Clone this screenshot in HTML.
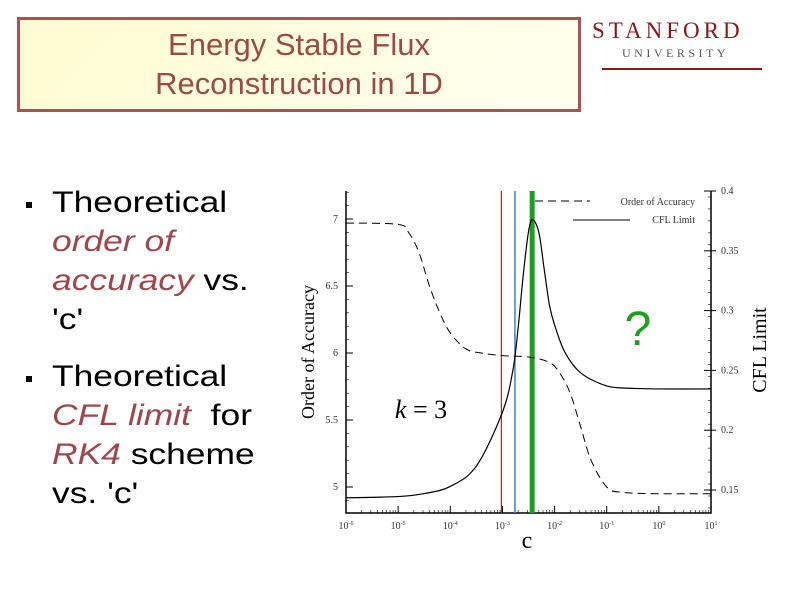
<!DOCTYPE html>
<html><head><meta charset="utf-8"><style>
body{margin:0;width:794px;height:595px;background:#fff;position:relative;overflow:hidden;font-family:"Liberation Sans",sans-serif}
#title{position:absolute;left:17px;top:17px;width:558px;height:84px;border:3px solid #b05050;background:linear-gradient(135deg,#fffbd0,#fffff0);color:#9b4a45;font-size:31px;text-align:center;line-height:39px;padding-top:5px;box-sizing:content-box}
.logo{position:absolute;left:592px;top:18px;color:#8c1515;font-family:"Liberation Serif",serif}
.bul{position:absolute;left:0;font-size:30px;line-height:39px;color:#000}
.bul .sq{position:absolute;left:26px;top:19px;width:6px;height:6px;background:#000}
.bul .t{position:absolute;left:52px;width:182px;transform:scaleX(1.18);transform-origin:0 0}
.o{color:#a0454a;font-style:italic}
</style></head><body>
<div id="title">Energy Stable Flux<br>Reconstruction in 1D</div>
<div class="logo">
<div style="font-size:23px;letter-spacing:4px">STANFORD</div>
<div style="font-size:12px;letter-spacing:3.5px;margin-left:30px;color:#555;margin-top:2px">UNIVERSITY</div>
<div style="width:160px;height:2px;background:#8c1515;margin:7px 0 0 10px"></div>
</div>
<div class="bul" style="top:183px"><div class="sq"></div><div class="t">Theoretical <span class="o">order of accuracy</span> vs. 'c'</div></div>
<div class="bul" style="top:357px"><div class="sq"></div><div class="t">Theoretical <span class="o">CFL limit</span>&nbsp; for <span class="o">RK4</span> scheme vs. 'c'</div></div>
<svg id="chart" width="794" height="595" style="position:absolute;left:0;top:0"></svg>
<script>
const orderLogC=[-6,-5,-4.8,-4.6,-4.4,-4.2,-4,-3.7,-3.4,-3,-2.5,-2.1,-1.9,-1.7,-1.5,-1.3,-1,-0.7,0,1];
const orderVals=[6.97,6.96,6.9,6.75,6.5,6.3,6.15,6.03,6.0,5.98,5.97,5.93,5.85,5.7,5.45,5.2,5.0,4.96,4.95,4.95];
const cflLogC=[-6,-5,-4.5,-4,-3.5,-3,-2.8,-2.7,-2.6,-2.5,-2.42,-2.3,-2.2,-2.1,-2,-1.8,-1.5,-1,-0.5,0,1];
const cflVals=[0.1435,0.1445,0.147,0.153,0.17,0.215,0.25,0.285,0.33,0.366,0.376,0.365,0.335,0.305,0.288,0.265,0.248,0.237,0.235,0.2345,0.2345];
const xTicks=[-6,-5,-4,-3,-2,-1,0,1];
const yLeftTicks=[5,5.5,6,6.5,7];
const yRightTicks=[0.15,0.2,0.25,0.3,0.35,0.4];
const markerLogC=[-3.02,-2.76,-2.43];
const NS='http://www.w3.org/2000/svg',svg=document.getElementById('chart');
const L=346,R=711,T=191,B=513;
const X=v=>L+(v+6)/7*(R-L);
const YL=v=>219+(7-v)*134;
const YR=v=>191+(0.4-v)*1196;
function mk(t,a,p){const e=document.createElementNS(NS,t);for(const k in a)e.setAttribute(k,a[k]);(p||svg).appendChild(e);return e;}
function tx(x,y,s,a,sz,ff){const e=mk('text',{x:x,y:y,'font-size':sz||10,'text-anchor':a||'middle','font-family':ff||'Liberation Serif, serif',fill:'#333'});e.textContent=s;return e;}
let ax=mk('path',{d:`M${L} ${T}V${B}H${R}V${T}`,stroke:'#000','stroke-width':1.5,fill:'none'});

xTicks.forEach(v=>{const x=X(v);mk('line',{x1:x,x2:x,y1:B,y2:B-7,stroke:'#000'});
 if(v<1)for(let k=2;k<10;k++){const xm=X(v+Math.log10(k));mk('line',{x1:xm,x2:xm,y1:B,y2:B-3,stroke:'#000','stroke-width':0.6});}
 const t=tx(x,B+16,'10');
 const s=mk('tspan',{'font-size':6,dy:-4},t);s.textContent=String(v);});
yLeftTicks.forEach(v=>{const y=YL(v);mk('line',{x1:L,x2:L+7,y1:y,y2:y,stroke:'#000'});
 const t=tx(L-8,y+3,String(v),'end');});
for(let v=4.9;v<7.2;v+=0.1){const y=YL(v);mk('line',{x1:L,x2:L+3,y1:y,y2:y,stroke:'#000','stroke-width':0.6});}
yRightTicks.forEach(v=>{const y=YR(v);mk('line',{x1:R,x2:R-7,y1:y,y2:y,stroke:'#000'});mk('line',{x1:R,x2:R+5,y1:y,y2:y,stroke:'#000'});
 const t=tx(R+10,y+3,String(v),'start');});
for(let v=0.135;v<0.4;v+=0.01){const y=YR(v);mk('line',{x1:R,x2:R-3,y1:y,y2:y,stroke:'#000','stroke-width':0.6});}
let t1=tx(527,548,'c','middle',24);t1.setAttribute('fill','#000');
let t2=tx(0,0,'Order of Accuracy','middle',18);t2.setAttribute('fill','#000');t2.setAttribute('transform','translate(314,352) rotate(-90)');
let t3=tx(0,0,'CFL Limit','middle',20);t3.setAttribute('fill','#000');t3.setAttribute('transform','translate(766,350) rotate(-90)');
let k3=tx(421,418,'','middle',26);k3.innerHTML='<tspan font-style="italic">k</tspan> = 3';k3.setAttribute('fill','#000');
const mcol=['#a03030','#4080d0','#1aa01a'],mw=[1.2,1.5,5];
markerLogC.forEach((v,i)=>{const l=mk('line',{x1:X(v),x2:X(v),y1:T,y2:B,stroke:mcol[i],'stroke-width':mw[i]});
 });
function smooth(xs,ys){let d=`M${xs[0]} ${ys[0]}`;const n=xs.length;
 for(let i=0;i<n-1;i++){const x0=xs[Math.max(i-1,0)],y0=ys[Math.max(i-1,0)],x1=xs[i],y1=ys[i],x2=xs[i+1],y2=ys[i+1],x3=xs[Math.min(i+2,n-1)],y3=ys[Math.min(i+2,n-1)];
 d+=` C${x1+(x2-x0)/6} ${y1+(y2-y0)/6} ${x2-(x3-x1)/6} ${y2-(y3-y1)/6} ${x2} ${y2}`;}return d;}
let s1=mk('path',{d:smooth(orderLogC.map(X),orderVals.map(YL)),stroke:'#000',fill:'none','stroke-dasharray':'8,5','stroke-width':1});

let s2=mk('path',{d:smooth(cflLogC.map(X),cflVals.map(YR)),stroke:'#000',fill:'none','stroke-width':1.2});

let lg=mk('g',{});
mk('line',{x1:535,x2:590,y1:201,y2:201,stroke:'#000','stroke-dasharray':'8,5'},lg);
mk('line',{x1:573,x2:630,y1:220,y2:220,stroke:'#000'},lg);
lg.appendChild(tx(695,205,'Order of Accuracy','end',10));lg.appendChild(tx(695,223,'CFL Limit','end',10));
let q=tx(638,345,'?','middle',48,'Liberation Sans, sans-serif');q.setAttribute('fill','#1aa01a');
</script>
</body></html>
